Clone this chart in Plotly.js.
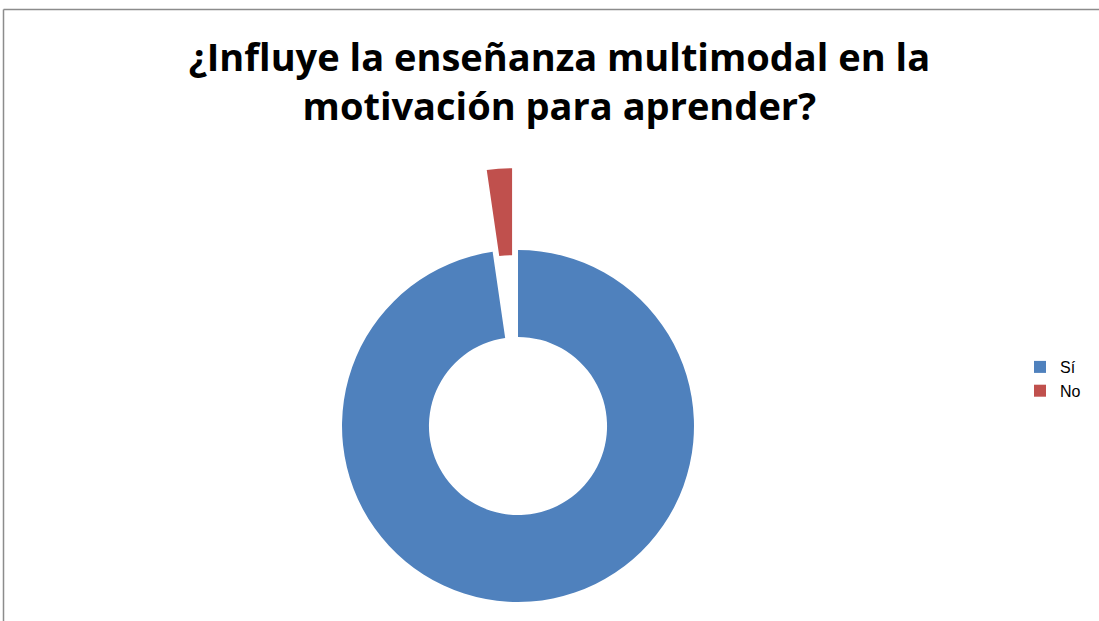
<!DOCTYPE html>
<html>
<head>
<meta charset="utf-8">
<script src="https://cdn.plot.ly/plotly-3.0.1.min.js"></script>
<style>
html,body{margin:0;padding:0;overflow:hidden;background:#fff;}
#chart{width:1099px;height:700px;}
</style>
</head>
<body>
<div id="chart"></div>
<script>
var titleText = "¿Influye la enseñanza multimodal en la<br>motivación para aprender?";
var categories = ["Sí", "No"];
var values = [97.7, 2.3];
var sliceColors = ["#4F81BD", "#C0504D"];
var pulls = [0, 0.466];

var data = [{
  type: "pie",
  labels: categories,
  values: values,
  marker: {colors: sliceColors, line: {width: 0}},
  pull: pulls,
  hole: 0.506,
  sort: false,
  direction: "clockwise",
  rotation: 0,
  textinfo: "none",
  hoverinfo: "label+percent",
  domain: {x: [0.23658, 0.70610], y: [0, 1]}
}];

var layout = {
  width: 1099,
  height: 700,
  margin: {l: 0, r: 0, t: 168, b: 16, autoexpand: false},
  paper_bgcolor: "#ffffff",
  plot_bgcolor: "#ffffff",
  title: {
    text: titleText,
    font: {family: "Open Sans, Liberation Sans, Arial, sans-serif", size: 38, color: "#000000", weight: "bold"},
    x: 0.509, xanchor: "center",
    y: 1 - 71/700, yanchor: "top", yref: "container"
  },
  showlegend: true,
  legend: {
    x: 1020/1099, xanchor: "left",
    y: (684 - 350)/516, yanchor: "top",
    font: {family: "Liberation Sans, Arial, sans-serif", size: 16, color: "#000000"},
    bgcolor: "rgba(0,0,0,0)",
    itemwidth: 30
  },
  shapes: [
    {type: "line", xref: "paper", yref: "paper", x0: 3.5/1099, x1: 1.01, y0: (684-9.5)/516, y1: (684-9.5)/516, line: {color: "#8c8c8c", width: 1.5}},
    {type: "line", xref: "paper", yref: "paper", x0: 3.5/1099, x1: 3.5/1099, y0: (684-9.5)/516, y1: -0.1, line: {color: "#8c8c8c", width: 1.5}}
  ]
};

Plotly.newPlot("chart", data, layout, {displayModeBar: false, staticPlot: false});
</script>
</body>
</html>
